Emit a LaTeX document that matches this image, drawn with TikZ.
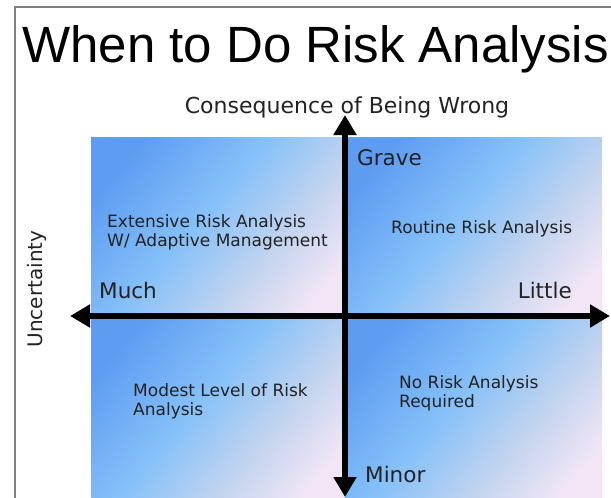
\documentclass[tikz,border=0pt]{standalone}
\usepackage{fontspec}
\setmainfont{DejaVu Sans}
\newfontfamily\titlefont{Liberation Sans}
\usetikzlibrary{arrows.meta}
\definecolor{qdark}{HTML}{5E9CF2}
\definecolor{qmid}{HTML}{86C1F9}
\definecolor{qgrey}{HTML}{C6D5EF}
\definecolor{qlight}{HTML}{F2E6F6}
\definecolor{txt}{HTML}{222222}
\pgfdeclareverticalshading{quadshade}{100bp}{color(0bp)=(qlight); color(22bp)=(qlight); color(36bp)=(qgrey); color(54bp)=(qmid); color(76bp)=(qdark); color(100bp)=(qdark)}

\begin{document}
\begin{tikzpicture}[x=1pt,y=-1pt,>={Triangle[length=20pt,width=22pt]},
  quad/.style={shading=quadshade, shading angle=50},
  axis/.style={<->, line width=6pt},
  lab/.style={inner sep=0, text=txt, font=\fontsize{21.5}{24}\selectfont},
  zone/.style={inner sep=0, text=txt, align=left, font=\fontsize{17}{19.5}\selectfont}]
  \useasboundingbox (0,0) rectangle (611,498);
  \draw[gray, line width=1.2pt] (15,498) -- (15,7) -- (611,7);

  % the four quadrants
  \foreach \xa/\ya/\xb/\yb in {91/137/345/316, 345/137/602/316, 91/316/345/498, 345/316/602/498}
    \shade[quad] (\xa,\ya) rectangle (\xb,\yb);

  \node[anchor=base west, inner sep=0, font=\titlefont\fontsize{51}{51}\selectfont] (title) at (22,62) {When to Do Risk Analysis};
  \node[lab, anchor=base, font=\fontsize{22}{24}\selectfont] (conseq) at (347,113) {Consequence of Being Wrong};
  \node[lab, rotate=90, font=\fontsize{20}{22}\selectfont] (uncert) at (37,289) {Uncertainty};

  \coordinate (axW) at (70,316);
  \coordinate (axE) at (610,316);
  \coordinate (axN) at (345,115);
  \coordinate (axS) at (345,497);
  \draw[axis] (axW) -- (axE);
  \draw[axis] (axS) -- (axN);

  \node[lab, anchor=base west] (grave) at (357,165) {Grave};
  \node[lab, anchor=base west] (much) at (99,298) {Much};
  \node[lab, anchor=base east] (little) at (572,298) {Little};
  \node[lab, anchor=base west] (minor) at (365,482) {Minor};

  \node[zone, anchor=north west] (extensive) at (107,214) {Extensive Risk Analysis\\W/ Adaptive Management};
  \node[zone, anchor=base west] (routine) at (391,233) {Routine Risk Analysis};
  \node[zone, anchor=north west] (modest) at (133,383) {Modest Level of Risk\\Analysis};
  \node[zone, anchor=north west] (norisk) at (399,375) {No Risk Analysis\\Required};
\end{tikzpicture}
\end{document}
